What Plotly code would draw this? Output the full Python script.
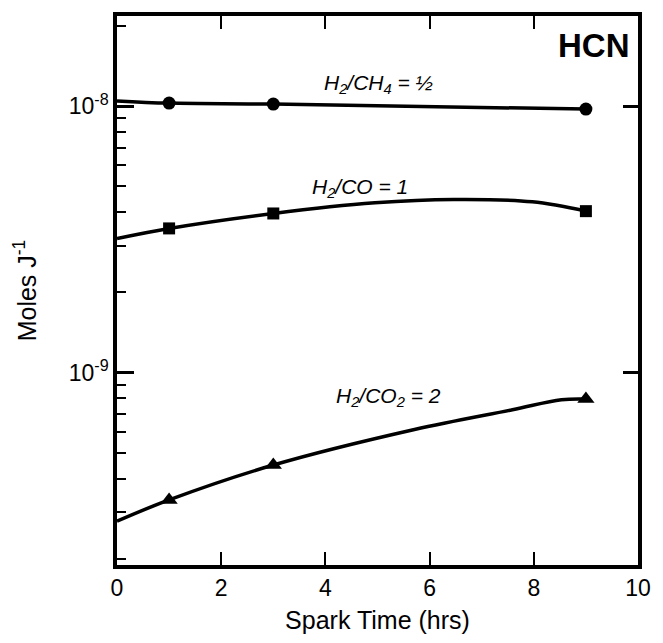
import plotly.graph_objects as go
import math

# ---- data ----
spark_hrs = [1, 3, 9]
hcn_ch4 = [1.028e-8, 1.019e-8, 9.76e-9]      # H2/CH4 = 1/2
hcn_co = [3.48e-9, 3.96e-9, 4.04e-9]         # H2/CO = 1
hcn_co2 = [3.33e-10, 4.50e-10, 7.96e-10]     # H2/CO2 = 2

# drawn smooth fit curves
fit_ch4_x = [0, 1, 3, 9]
fit_ch4_y = [1.048e-8, 1.028e-8, 1.019e-8, 9.76e-9]
fit_co_x = [0, 1, 3, 4.95, 6.46, 7.97, 9]
fit_co_y = [3.19e-9, 3.48e-9, 3.96e-9, 4.34e-9, 4.47e-9, 4.38e-9, 4.04e-9]
fit_co2_x = [0, 1, 3, 5.71, 7.59, 8.53, 9]
fit_co2_y = [2.77e-10, 3.33e-10, 4.50e-10, 6.12e-10, 7.26e-10, 7.91e-10, 7.96e-10]

x_ticks = [0, 2, 4, 6, 8, 10]
y_major = [1e-9, 1e-8]
y_major_text = ["10<sup>-9</sup>", "10<sup>-8</sup>"]
y_minor = [k * 1e-10 for k in range(2, 10)] + [k * 1e-9 for k in range(2, 10)] + [2e-8]

FONT = "Liberation Sans, Arial, Helvetica, sans-serif"
BLACK = "#000000"

fig = go.Figure()

for fx, fy in [(fit_ch4_x, fit_ch4_y), (fit_co_x, fit_co_y), (fit_co2_x, fit_co2_y)]:
    fig.add_trace(go.Scatter(x=fx, y=fy, mode="lines",
                             line=dict(color=BLACK, width=3.5, shape="spline", smoothing=1.0),
                             showlegend=False, hoverinfo="skip"))

for ys, sym, size in [(hcn_ch4, "circle", 13), (hcn_co, "square", 12), (hcn_co2, "triangle-up", 15)]:
    fig.add_trace(go.Scatter(x=spark_hrs, y=ys, mode="markers",
                             marker=dict(symbol=sym, size=size, color=BLACK),
                             showlegend=False))

# invisible trace for the right-hand axis
fig.add_trace(go.Scatter(x=[0], y=[1e-9], yaxis="y2", mode="markers",
                         marker=dict(opacity=0), showlegend=False, hoverinfo="skip"))

annos = [
    dict(text="<b>HCN</b>", x=9.15, y=math.log10(1.69e-8), size=33),
    dict(text="<i>H<sub>2</sub>/CH<sub>4</sub> = ½</i>", x=5.02, y=math.log10(1.21e-8), size=21),
    dict(text="<i>H<sub>2</sub>/CO = 1</i>", x=4.67, y=math.log10(4.95e-9), size=21),
    dict(text="<i>H<sub>2</sub>/CO<sub>2</sub> = 2</i>", x=5.22, y=math.log10(8.11e-10), size=21),
]
for a in annos:
    fig.add_annotation(text=a["text"], x=a["x"], y=a["y"], xref="x", yref="y",
                       showarrow=False, font=dict(family=FONT, size=a["size"], color=BLACK))

fig.update_layout(
    width=663, height=643,
    margin=dict(l=117, r=15, t=14, b=73),
    paper_bgcolor="white", plot_bgcolor="white",
    font=dict(family=FONT, color=BLACK),
    xaxis=dict(range=[0, 10], tickvals=x_ticks, ticks="inside", ticklen=13, tickwidth=2,
               tickcolor=BLACK, showline=True, linewidth=3.5, linecolor=BLACK, mirror="ticks",
               showgrid=False, zeroline=False, tickfont=dict(size=23),
               title=dict(text="Spark Time (hrs)", font=dict(size=25), standoff=12)),
    yaxis=dict(type="log", range=[-9.722, -7.661], tickvals=y_major, ticktext=y_major_text,
               ticks="inside", ticklen=17, tickwidth=3, tickcolor=BLACK,
               showline=True, linewidth=3.5, linecolor=BLACK, showgrid=False, zeroline=False,
               tickfont=dict(size=23),
               minor=dict(tickvals=y_minor, ticks="inside", ticklen=9, tickwidth=2,
                          tickcolor=BLACK, showgrid=False),
               title=dict(text="Moles J<sup>-1</sup>", font=dict(size=25), standoff=26)),
    yaxis2=dict(type="log", range=[-9.722, -7.661], overlaying="y", side="right",
                tickvals=y_major, ticks="inside", ticklen=15, tickwidth=3, tickcolor=BLACK,
                showticklabels=False, showline=True, linewidth=3.5, linecolor=BLACK,
                showgrid=False, zeroline=False),
)

fig.write_html("out.html")
